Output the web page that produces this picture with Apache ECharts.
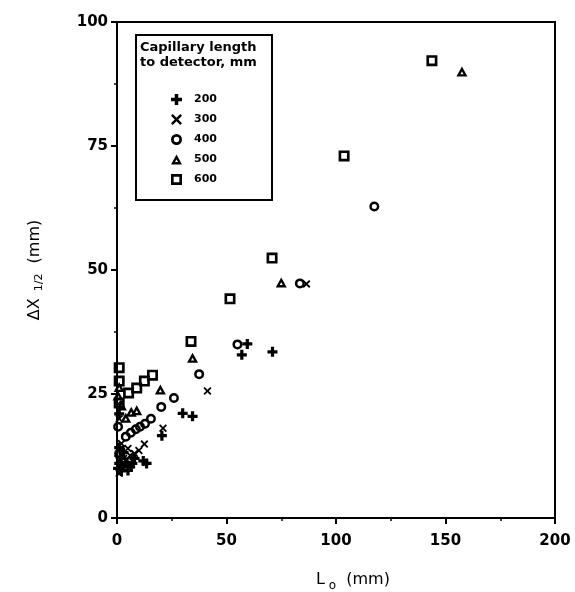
<!DOCTYPE html>
<html><head><meta charset="utf-8">
<script src="https://cdn.jsdelivr.net/npm/echarts@6/dist/echarts.min.js"></script>
<style>html,body{margin:0;padding:0;background:#fff}#c{width:575px;height:592px}</style>
</head><body><div id="c"></div>
<script>
// Data: [L_o (mm), ΔX_1/2 (mm)]
var s200 = [[0.5,10],[1,11],[1.5,12.3],[2,9.5],[3,10.5],[4,11.2],[5,9.6],[6,10.3],[7,11],[8,12],[3,13.2],[1,14.2],[1,21],[12,11.5],[13.5,11],[20.5,16.6],[30,21.1],[34.5,20.5],[57,32.9],[59.5,35.1],[71,33.5]];
var s300 = [[1,9],[2,10.2],[3,12],[4.5,11.7],[6,12.6],[8,13],[10,13.6],[2,15],[5,14],[1,20],[0.5,23],[12.5,14.9],[21,18.1],[41.3,25.6],[86.5,47.2]];
var s400 = [[0.5,18.4],[1,13],[4,16.4],[6.3,17.2],[8.6,17.9],[10.5,18.4],[12.8,19],[15.5,20],[20.2,22.4],[26,24.2],[37.5,29],[55,35],[83.5,47.3],[117.5,62.8]];
var s500 = [[0.5,24.7],[1,26.4],[2,22.7],[4,20.2],[6.5,21.4],[9,21.7],[19.8,25.9],[34.5,32.3],[75,47.5],[157.5,90]];
var s600 = [[1,30.3],[1,27.6],[1,23.2],[5.3,25.2],[9,26.2],[12.5,27.6],[16.2,28.8],[33.8,35.6],[51.6,44.2],[70.8,52.4],[103.7,73],[143.8,92.2]];
var seriesNames = ['200','300','400','500','600'];
var xTicks = [0,50,100,150,200];
var yTicks = [0,25,50,75,100];

var FONT = '"DejaVu Sans", "Liberation Sans", Arial, sans-serif';
var plusPath = 'path://M3.4,0H6.6V3.4H10V6.6H6.6V10H3.4V6.6H0V3.4H3.4Z';
var xPath = 'path://M1.6,0L5,3.4L8.4,0L10,1.6L6.6,5L10,8.4L8.4,10L5,6.6L1.6,10L0,8.4L3.4,5L0,1.6Z';
var circPath = 'path://M5,0A5,5 0 1,1 5,10A5,5 0 1,1 5,0Z M5,2.5A2.5,2.5 0 1,0 5,7.5A2.5,2.5 0 1,0 5,2.5Z';
var sqPath = 'path://M0,0H10V10H0Z M2.4,2.4V7.6H7.6V2.4Z';
var triPath = 'path://M5,0L10,9L0,9Z M5,4.4L3.6,6.85L6.4,6.85Z';

var chart = echarts.init(document.getElementById('c'));
function axisCommon(margin){ return {
  axisLine:{show:true,onZero:false,lineStyle:{color:'#000',width:2}},
  axisTick:{show:true,inside:false,length:6,lineStyle:{color:'#000',width:2}},
  minorTick:{show:true,splitNumber:2,length:3,lineStyle:{color:'#000',width:1.5}},
  splitLine:{show:false},
  axisLabel:{color:'#000',fontFamily:FONT,fontWeight:'bold',fontSize:15,margin:margin}
};}
var mk = {color:'#000',opacity:1};
chart.setOption({
  animation:false,
  backgroundColor:'#fff',
  grid:{left:117,right:20,top:22,bottom:74,show:true,borderColor:'#000',borderWidth:2,containLabel:false,outerBoundsMode:'none'},
  xAxis:Object.assign({type:'value',min:xTicks[0],max:xTicks[xTicks.length-1],interval:50,
    name:'{a|L}{b| o}{a|  (mm)}',nameLocation:'middle',nameGap:50,
    nameTextStyle:{padding:[0,0,0,34],rich:{a:{fontFamily:FONT,fontSize:16,color:'#000'},b:{fontFamily:FONT,fontSize:12,color:'#000',padding:[12,0,0,0]}}}
  },axisCommon(16)),
  yAxis:Object.assign({type:'value',min:yTicks[0],max:yTicks[yTicks.length-1],interval:25,
    name:'{a|ΔX}{b|  1/2}{a|  (mm)}',nameLocation:'middle',nameGap:72,nameRotate:90,
    nameTextStyle:{rich:{a:{fontFamily:FONT,fontSize:16,color:'#000'},b:{fontFamily:FONT,fontSize:11,color:'#000',padding:[10,0,0,0]}}}
  },axisCommon(9)),
  legend:{
    orient:'vertical',left:166,top:89,itemWidth:11,itemHeight:11,itemGap:9,
    data:seriesNames,
    textStyle:{fontFamily:FONT,fontWeight:'bold',fontSize:11,color:'#000',padding:[0,0,0,7]}
  },
  graphic:[
    {type:'rect',shape:{x:136,y:35,width:136,height:165},style:{fill:'none',stroke:'#000',lineWidth:2},z:10},
    {type:'text',left:140,top:40,style:{text:'Capillary length\nto detector, mm',font:'bold 13px '+FONT,fill:'#000',lineHeight:15},z:10}
  ],
  series:[
    {name:'600',type:'scatter',data:s600,symbol:sqPath,symbolSize:[11,11],itemStyle:mk},
    {name:'500',type:'scatter',data:s500,symbol:triPath,symbolSize:[11,10],itemStyle:mk},
    {name:'400',type:'scatter',data:s400,symbol:circPath,symbolSize:10,itemStyle:mk},
    {name:'300',type:'scatter',data:s300,symbol:xPath,symbolSize:8,itemStyle:mk},
    {name:'200',type:'scatter',data:s200,symbol:plusPath,symbolSize:10,itemStyle:mk}
  ]
});
</script></body></html>
